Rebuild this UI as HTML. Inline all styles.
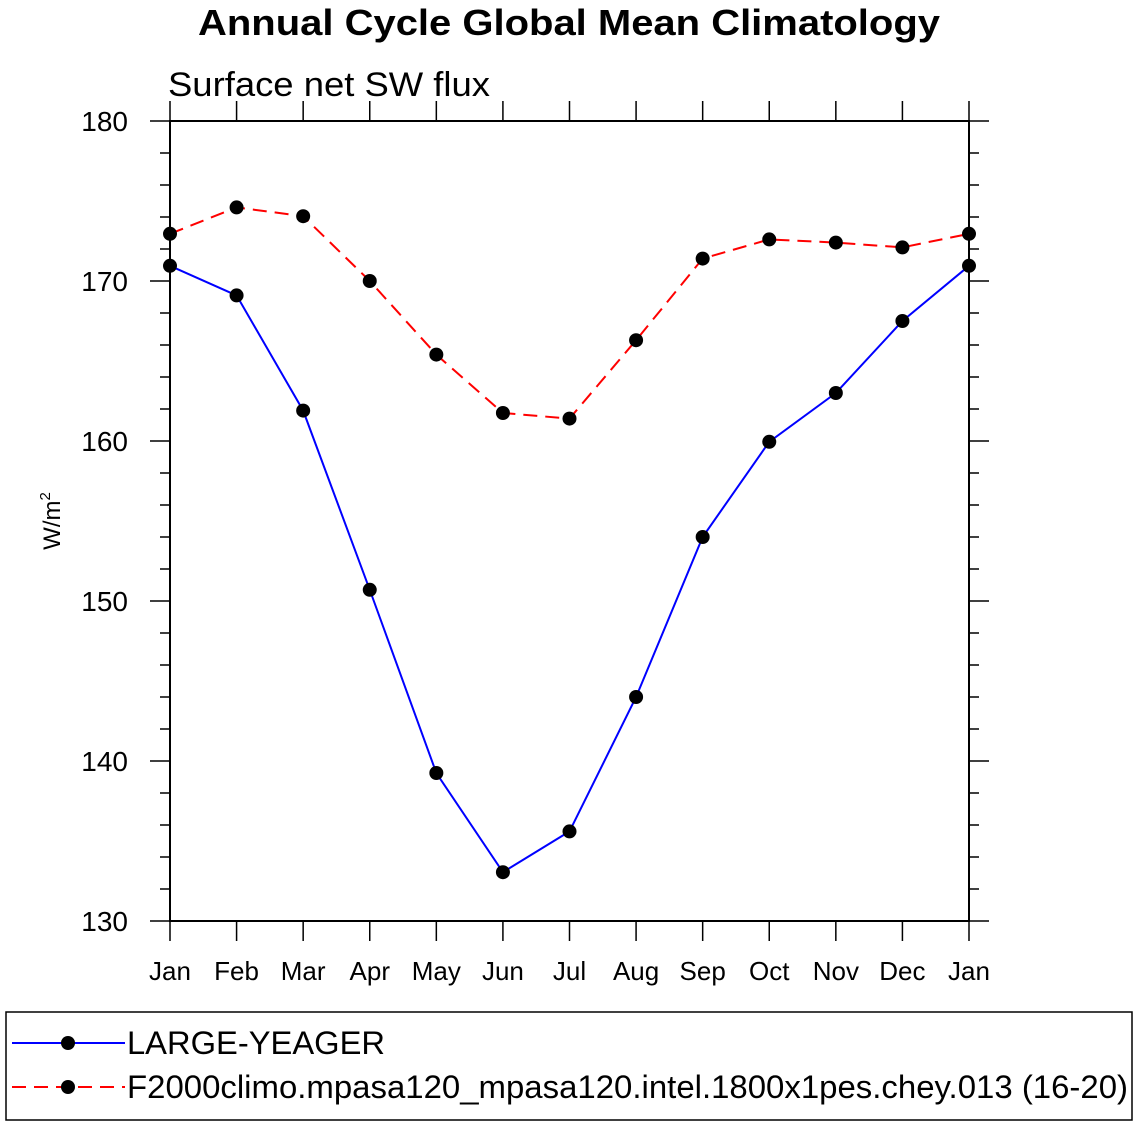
<!DOCTYPE html>
<html><head><meta charset="utf-8"><style>
body{margin:0;background:#fff;}
svg text{font-family:"Liberation Sans",Helvetica,Arial,sans-serif;}
</style></head><body>
<svg id="chart" width="1138" height="1126" viewBox="0 0 1138 1126" xmlns="http://www.w3.org/2000/svg">
<text x="198" y="35" font-size="36" font-weight="bold" textLength="742" lengthAdjust="spacingAndGlyphs">Annual Cycle Global Mean Climatology</text>
<text x="168" y="96" font-size="34" textLength="322" lengthAdjust="spacingAndGlyphs">Surface net SW flux</text>
<text transform="translate(60,521) rotate(-90)" text-anchor="middle" font-size="24">W/m<tspan dy="-10" font-size="15">2</tspan></text>
<g id="axes"></g>
<g id="series"></g>
<rect x="6" y="1012" width="1126" height="108" fill="none" stroke="#000" stroke-width="1.5"/>
<g>
<line x1="12" y1="1043" x2="125" y2="1043" stroke="#0000ff" stroke-width="2"/>
<circle cx="68" cy="1043" r="7" fill="#000"/>
<text x="127" y="1054" font-size="32" textLength="258" lengthAdjust="spacingAndGlyphs">LARGE-YEAGER</text>
</g>
<g>
<line x1="12" y1="1087" x2="125" y2="1087" stroke="#ff0000" stroke-width="2" stroke-dasharray="14,8"/>
<circle cx="68" cy="1087" r="7" fill="#000"/>
<text x="127" y="1098" font-size="32" textLength="1001" lengthAdjust="spacingAndGlyphs">F2000climo.mpasa120_mpasa120.intel.1800x1pes.chey.013 (16-20)</text>
</g>
</svg>
<script>
const months = ["Jan","Feb","Mar","Apr","May","Jun","Jul","Aug","Sep","Oct","Nov","Dec","Jan"];
const yTicks = [130,140,150,160,170,180];
const largeYeager = [170.95,169.1,161.9,150.7,139.25,133.05,135.6,144.0,154.0,159.95,163.0,167.5,170.95];
const f2000 = [172.95,174.6,174.05,170.0,165.4,161.75,161.4,166.3,171.4,172.6,172.4,172.1,172.95];

const NS="http://www.w3.org/2000/svg";
const X0=170,X1=969,Y0=921,Y1=121,YMIN=130,YMAX=180;
const xs=i=>X0+(X1-X0)*i/(months.length-1);
const ys=v=>Y0-(v-YMIN)/(YMAX-YMIN)*(Y0-Y1);
function mk(tag,attrs,parent){const e=document.createElementNS(NS,tag);for(const k in attrs)e.setAttribute(k,attrs[k]);parent.appendChild(e);return e;}
const axes=document.getElementById('axes');
const frame=mk('rect',{x:X0,y:Y1,width:X1-X0,height:Y0-Y1,fill:'none',stroke:'#000','stroke-width':2},axes);


for(let v=YMIN;v<=YMAX;v+=2){
  const major=(v%10===0);const y=ys(v);const len=major?20:10;
  mk('line',{x1:X0-len,y1:y,x2:X0,y2:y,stroke:'#000','stroke-width':1.5},axes);
  mk('line',{x1:X1,y1:y,x2:X1+len,y2:y,stroke:'#000','stroke-width':1.5},axes);
}
yTicks.forEach(v=>{
  const t=mk('text',{x:X0-42,y:ys(v)+10,'text-anchor':'end','font-size':28},axes);
  t.textContent=v;
  
  
});
months.forEach((m,i)=>{
  const x=xs(i);
  mk('line',{x1:x,y1:Y0,x2:x,y2:Y0+20,stroke:'#000','stroke-width':1.5},axes);
  mk('line',{x1:x,y1:Y1-20,x2:x,y2:Y1,stroke:'#000','stroke-width':1.5},axes);
  const t=mk('text',{x:x,y:980,'text-anchor':'middle','font-size':26},axes);
  t.textContent=m;
  
  
});
const series=document.getElementById('series');
function draw(vals,color,dash,name){
  const g=mk('g',{},series);
  
  
  const pts=vals.map((v,i)=>xs(i)+','+ys(v)).join(' ');
  const pl=mk('polyline',{points:pts,fill:'none',stroke:color,'stroke-width':2},g);
  if(dash)pl.setAttribute('stroke-dasharray',dash);
  vals.forEach((v,i)=>{
    const c=mk('circle',{cx:xs(i),cy:ys(v),r:7,fill:'#000'},g);
    
    
  });
}
draw(f2000,'#ff0000','14,8','series-f2000climo');
draw(largeYeager,'#0000ff',null,'series-large-yeager');
</script>
</body></html>
